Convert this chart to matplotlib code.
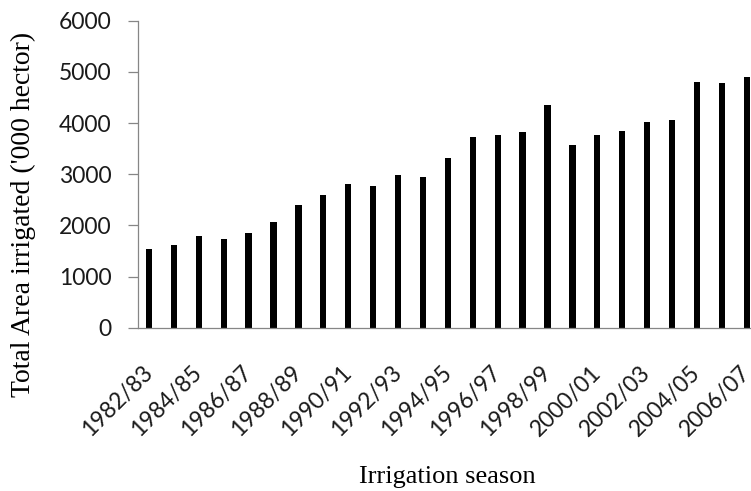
import matplotlib
matplotlib.use("Agg")
from matplotlib import pyplot as plt
import numpy as np

# irrigation seasons and total irrigated area ('000 hectare)
seasons = ["1982/83", "1983/84", "1984/85", "1985/86", "1986/87", "1987/88",
           "1988/89", "1989/90", "1990/91", "1991/92", "1992/93", "1993/94",
           "1994/95", "1995/96", "1996/97", "1997/98", "1998/99", "1999/00",
           "2000/01", "2001/02", "2002/03", "2003/04", "2004/05", "2005/06",
           "2006/07"]
area = [1544, 1616, 1792, 1739, 1844, 2072, 2392, 2600, 2802, 2775, 2978, 2945,
        3322, 3727, 3772, 3824, 4352, 3576, 3772, 3850, 4026, 4053, 4807, 4775,
        4905]
yticks = [0, 1000, 2000, 3000, 4000, 5000, 6000]

W, H = 751, 491
fig = plt.figure(figsize=(W / 100, H / 100), dpi=100)
# axes placed in pixel terms: left spine x=138, top y=20.7, bottom y=327.7
ax = fig.add_axes([138 / W, (H - 327.7) / H, (W - 138) / W, (327.7 - 20.7) / H])

x = np.arange(len(seasons))
ax.bar(x, area, width=0.25, color="black", edgecolor="none")

ax.set_xlim(-0.44, 24.17)
ax.set_ylim(0, 6000)

axis_grey = "#868686"
for side in ["top", "right"]:
    ax.spines[side].set_visible(False)
for side in ["left", "bottom"]:
    ax.spines[side].set_color(axis_grey)
    ax.spines[side].set_linewidth(0.9)

tick_font = dict(family=["Lato", "DejaVu Sans"], size=16.5)

ax.set_yticks(yticks)
ax.set_yticklabels([str(v) for v in yticks], fontdict=tick_font, color="#1a1a1a")
ax.tick_params(axis="y", direction="out", length=7, width=0.9, color=axis_grey, pad=12)

# only every second season is labelled, as in the original
ax.set_xticks(x[::2])
ax.set_xticklabels(seasons[::2], fontdict=tick_font, color="#1a1a1a",
                   rotation=45, ha="right", va="center", rotation_mode="anchor")
ax.tick_params(axis="x", length=0, pad=30)

serif = ["Liberation Serif", "DejaVu Serif"]
fig.text(23 / W, 1 - 214 / H, "Total Area irrigated ('000 hector)", family=serif,
         size=20, rotation=90, ha="center", va="center")
fig.text(447 / W, 1 - 477 / H, "Irrigation season", family=serif, size=19,
         ha="center", va="center")

fig.savefig("out.png", dpi=100)
